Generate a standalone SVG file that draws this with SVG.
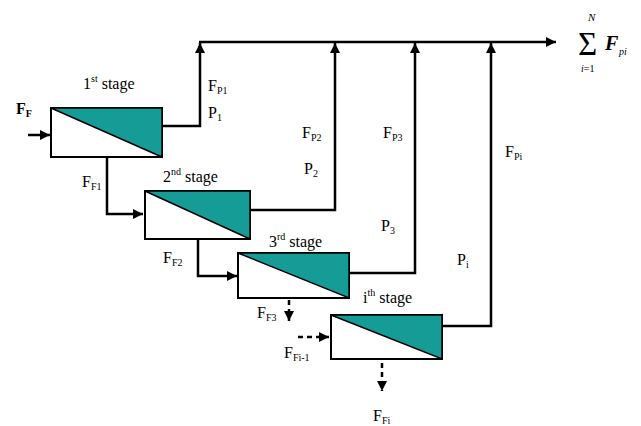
<svg xmlns="http://www.w3.org/2000/svg" width="641" height="426" viewBox="0 0 641 426" font-family="'Liberation Serif', 'DejaVu Serif', serif">
<style>
text, tspan{font-family:"Liberation Serif","DejaVu Serif",serif}
text{fill:#000}
.lbl{font-size:16px}
.sub{font-size:10px}
.box{fill:#fff;stroke:#000;stroke-width:2}
.tri{fill:#169c97;stroke:#000;stroke-width:1.5}
.line{fill:none;stroke:#000;stroke-width:2.5}
.dash{fill:none;stroke:#000;stroke-width:2.5;stroke-dasharray:5,4}
</style>
<defs>
<marker id="ah" markerUnits="userSpaceOnUse" markerWidth="12" markerHeight="10" refX="10" refY="5" orient="auto">
<path d="M0,0 L10,5 L0,10 Z" fill="#000"/>
</marker>
</defs>
<rect width="641" height="426" fill="#fff"/>
<g id="connectors">
<line class="line" x1="28" y1="135" x2="50" y2="135" marker-end="url(#ah)"/>
<polyline class="line" points="162,126 200,126 200,43" marker-end="url(#ah)"/>
<polyline class="line" points="250,210 335,210 335,43" marker-end="url(#ah)"/>
<polyline class="line" points="349,273 415,273 415,43" marker-end="url(#ah)"/>
<polyline class="line" points="442,326 491,326 491,43" marker-end="url(#ah)"/>
<line class="line" x1="199" y1="42" x2="556" y2="42" marker-end="url(#ah)"/>
<polyline class="line" points="107,157 107,214 143,214" marker-end="url(#ah)"/>
<polyline class="line" points="198,239 198,276 237,276" marker-end="url(#ah)"/>
<line class="dash" x1="289" y1="300" x2="289" y2="321" marker-end="url(#ah)"/>
<line class="dash" x1="298" y1="337" x2="329" y2="337" marker-end="url(#ah)"/>
<line class="dash" x1="382" y1="363" x2="382" y2="391" marker-end="url(#ah)"/>
</g>
<g id="stage1">
<rect class="box" x="51" y="108" width="111" height="49"/>
<polygon class="tri" points="51,108 162,108 162,157"/>
<text class="lbl" x="83" y="89">1<tspan class="sub" dy="-7">st</tspan><tspan dy="7"> stage</tspan></text>
</g>
<g id="stage2">
<rect class="box" x="145" y="191" width="105" height="48"/>
<polygon class="tri" points="145,191 250,191 250,239"/>
<text class="lbl" x="163" y="182">2<tspan class="sub" dy="-7">nd</tspan><tspan dy="7"> stage</tspan></text>
</g>
<g id="stage3">
<rect class="box" x="238" y="253" width="111" height="45"/>
<polygon class="tri" points="238,253 349,253 349,298"/>
<text class="lbl" x="269" y="247">3<tspan class="sub" dy="-7">rd</tspan><tspan dy="7"> stage</tspan></text>
</g>
<g id="stagei">
<rect class="box" x="331" y="315" width="111" height="44"/>
<polygon class="tri" points="331,315 442,315 442,359"/>
<text class="lbl" x="363" y="303">i<tspan class="sub" dy="-7">th</tspan><tspan dy="7"> stage</tspan></text>
</g>
<g id="labels">
<text class="lbl" x="16" y="114" font-weight="bold">F<tspan class="sub" dy="3">F</tspan></text>
<text class="lbl" x="208" y="91">F<tspan class="sub" dy="3">P1</tspan></text>
<text class="lbl" x="208" y="118">P<tspan class="sub" dy="3">1</tspan></text>
<text class="lbl" x="302" y="138">F<tspan class="sub" dy="3">P2</tspan></text>
<text class="lbl" x="304" y="174">P<tspan class="sub" dy="3">2</tspan></text>
<text class="lbl" x="383" y="138">F<tspan class="sub" dy="3">P3</tspan></text>
<text class="lbl" x="381" y="231">P<tspan class="sub" dy="3">3</tspan></text>
<text class="lbl" x="505" y="157">F<tspan class="sub" dy="3">Pi</tspan></text>
<text class="lbl" x="457" y="265">P<tspan class="sub" dy="3">i</tspan></text>
<text class="lbl" x="82" y="187">F<tspan class="sub" dy="3">F1</tspan></text>
<text class="lbl" x="163" y="263">F<tspan class="sub" dy="3">F2</tspan></text>
<text class="lbl" x="257" y="318">F<tspan class="sub" dy="3">F3</tspan></text>
<text class="lbl" x="284" y="358">F<tspan class="sub" dy="3">Fi-1</tspan></text>
<text class="lbl" x="373" y="421">F<tspan class="sub" dy="3">Fi</tspan></text>
</g>
<g id="sum">
<text x="578" y="55" font-size="33">Σ</text>
<text x="588" y="21" font-size="11" font-style="italic">N</text>
<text x="581" y="72" font-size="10" font-style="italic">i<tspan font-style="normal">=1</tspan></text>
<text x="605" y="50" font-size="20" font-style="italic" font-weight="bold">F</text>
<text x="619" y="55" font-size="10" font-style="italic">pi</text>
</g>
</svg>
